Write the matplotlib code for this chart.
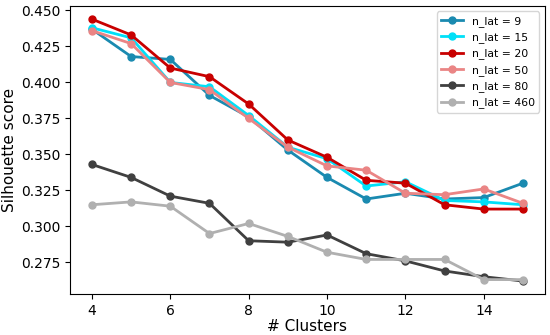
import matplotlib
matplotlib.use("Agg")
import matplotlib.pyplot as plt

clusters = list(range(4, 16))

n_lat_labels = ["n_lat = 9", "n_lat = 15", "n_lat = 20", "n_lat = 50", "n_lat = 80", "n_lat = 460"]

score_9 = [0.437, 0.418, 0.416, 0.391, 0.376, 0.353, 0.334, 0.319, 0.323, 0.319, 0.320, 0.330]
score_15 = [0.438, 0.431, 0.400, 0.397, 0.377, 0.355, 0.347, 0.328, 0.331, 0.318, 0.317, 0.315]
score_20 = [0.444, 0.433, 0.410, 0.404, 0.385, 0.360, 0.348, 0.332, 0.330, 0.315, 0.312, 0.312]
score_50 = [0.436, 0.427, 0.400, 0.395, 0.375, 0.355, 0.342, 0.339, 0.323, 0.322, 0.326, 0.316]
score_80 = [0.343, 0.334, 0.321, 0.316, 0.290, 0.289, 0.294, 0.281, 0.276, 0.269, 0.265, 0.262]
score_460 = [0.315, 0.317, 0.314, 0.295, 0.302, 0.293, 0.282, 0.277, 0.277, 0.277, 0.263, 0.263]

series = [score_9, score_15, score_20, score_50, score_80, score_460]
colors = ["#1a8ab0", "#00e0f8", "#c80000", "#ea8585", "#404040", "#b0b0b0"]

fig, ax = plt.subplots(figsize=(5.5, 3.35), dpi=100)

for label, values, color in zip(n_lat_labels, series, colors):
    ax.plot(clusters, values, marker="o", color=color, label=label,
            linewidth=2, markersize=5)

ax.set_xlabel("# Clusters", fontsize=11, labelpad=1)
ax.set_ylabel("Silhouette score", fontsize=11, labelpad=3)
ax.set_xticks([4, 6, 8, 10, 12, 14])
ax.tick_params(labelsize=10)
ax.legend(loc="upper right", fontsize=7.8, labelspacing=0.5)

fig.subplots_adjust(left=0.128, right=0.99, top=0.982, bottom=0.122)
fig.savefig("out.png", dpi=100)
